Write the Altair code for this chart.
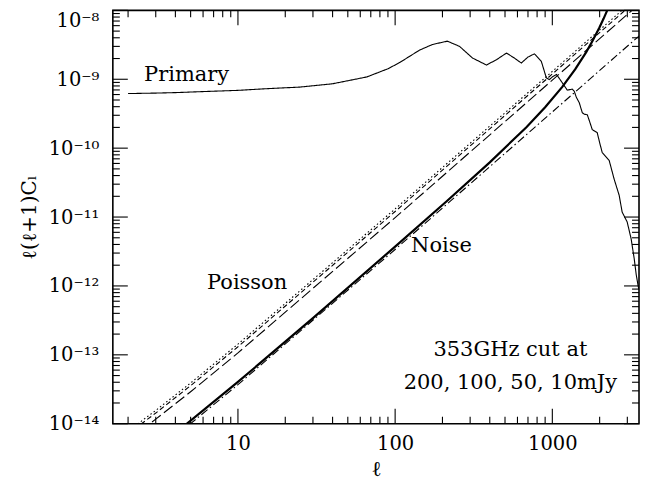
import altair as alt
import pandas as pd

# ---------------- data ----------------
primary_l = [2, 3, 4, 5.74, 10, 15.3, 24.8, 40, 66, 90, 107, 143, 173, 215, 257, 311,
             381, 441, 511, 574, 635, 700, 769, 851, 916, 957, 1010, 1065, 1157, 1245,
             1339, 1379, 1420, 1484, 1551, 1600, 1668, 1720, 1795, 1930, 2000, 2077,
             2300, 2475, 2662, 2781, 2993, 3174, 3317, 3417, 3521, 3560]
primary_v = [6.2e-10, 6.3e-10, 6.4e-10, 6.6e-10, 6.9e-10, 7.3e-10, 7.7e-10, 8.6e-10,
             1.08e-9, 1.42e-9, 1.75e-9, 2.65e-9, 3.2e-9, 3.57e-9, 3.0e-9, 2.03e-9,
             1.61e-9, 1.92e-9, 2.4e-9, 2.03e-9, 1.72e-9, 2.1e-9, 2.34e-9, 1.82e-9,
             1.05e-9, 9.9e-10, 1.1e-9, 1.17e-9, 8.9e-10, 6.95e-10,
             7.2e-10, 6.7e-10, 5.5e-10, 4.56e-10, 3.27e-10, 3.1e-10, 3.06e-10, 2.5e-10,
             1.86e-10, 1.68e-10, 1.2e-10, 8.65e-11,
             6.63e-11, 3.53e-11, 2.07e-11, 1.18e-11, 8.5e-12, 4.8e-12, 2.5e-12, 1.46e-12,
             9.8e-13, 8.9e-13]

poisson_l = [2, 3, 5, 10, 100, 1000, 3600]
poisson_200 = [7.8e-15, 1.56e-14, 3.9e-14, 1.43e-13, 1.313e-11, 1.301e-9, 1.685e-8]
poisson_100 = [7.14e-15, 1.428e-14, 3.57e-14, 1.309e-13, 1.202e-11, 1.191e-9, 1.543e-8]
poisson_50 = [5.82e-15, 1.164e-14, 2.91e-14, 1.067e-13, 9.80e-12, 9.71e-10, 1.257e-8]
poisson_10 = [2.01e-15, 4.02e-15, 1.005e-14, 3.685e-14, 3.384e-12, 3.353e-10, 4.343e-9]

noise_l = [4.5, 10, 30, 100, 211, 400, 684, 900, 1157, 1400, 1643, 1800, 1987, 2120, 2235, 2300]
noise_v = [9.1e-15, 4.04e-14, 3.41e-13, 3.72e-12, 1.667e-11, 6.22e-11, 2.016e-10, 3.92e-10,
           7.75e-10, 1.40e-9, 2.48e-9, 3.58e-9, 5.56e-9, 7.6e-9, 1.0e-8, 1.17e-8]

series_names = ["Primary", "200mJy", "100mJy", "50mJy", "10mJy"]
series_dash = [[1, 0], [1.5, 2.5], [5, 3], [11, 4], [8, 3, 1.5, 3]]

x_major = [10, 100, 1000]
x_minor = [2, 3, 4, 5, 6, 7, 8, 9, 20, 30, 40, 50, 60, 70, 80, 90,
           200, 300, 400, 500, 600, 700, 800, 900, 2000, 3000]
y_major = [1e-14, 1e-13, 1e-12, 1e-11, 1e-10, 1e-9, 1e-8]
y_minor = [m * 10.0 ** e for e in range(-14, -8) for m in range(2, 10)]

labels_left = ["Primary", "Poisson", "Noise"]
labels_left_l = [2.53, 6.36, 126.3]
labels_left_v = [9.46e-10, 9.14e-13, 3.13e-12]
labels_center = ["353GHz cut at", "200, 100, 50, 10mJy"]
labels_center_l = [541, 541]
labels_center_v = [9.58e-14, 3.2e-14]

# ---------------- build tables ----------------
rows = []
for l, v in zip(primary_l, primary_v):
    rows.append({"l": l, "v": v, "s": "Primary"})
for name, vals in zip(["200mJy", "100mJy", "50mJy", "10mJy"],
                      [poisson_200, poisson_100, poisson_50, poisson_10]):
    for l, v in zip(poisson_l, vals):
        rows.append({"l": l, "v": v, "s": name})
lines_df = pd.DataFrame(rows)
noise_df = pd.DataFrame({"l": noise_l, "v": noise_v})

W, H = 527, 414
FONT = "DejaVu Serif"

xs = alt.Scale(type="log", domain=[1.6, 3560], nice=False)
ys = alt.Scale(type="log", domain=[1e-14, 1e-8], nice=False)

ylabel_expr = ("datum.value < 5e-14 ? '10⁻¹⁴' : datum.value < 5e-13 ? '10⁻¹³' : "
               "datum.value < 5e-12 ? '10⁻¹²' : datum.value < 5e-11 ? '10⁻¹¹' : "
               "datum.value < 5e-10 ? '10⁻¹⁰' : datum.value < 5e-9 ? '10⁻⁹' : '10⁻⁸'")

x_axis = alt.Axis(values=x_major, format="d", ticks=False, domain=False, grid=False,
                  labelFont=FONT, labelFontSize=19.5, labelPadding=11, labelColor="black",
                  title="ℓ", titleFont=FONT, titleFontSize=21, titleFontWeight="normal",
                  titlePadding=5, titleColor="black", labelFlush=False)
y_axis = alt.Axis(values=y_major, labelExpr=ylabel_expr, ticks=False, domain=False, grid=False,
                  labelFont=FONT, labelFontSize=19.5, labelPadding=14, labelColor="black",
                  labelOffset={"condition": {"test": "datum.value > 5e-9", "value": 10}, "value": 0},
                  title="ℓ(ℓ+1)Cₗ", titleFont=FONT, titleFontSize=20, titleFontWeight="normal",
                  titlePadding=9, titleColor="black", labelFlush=False)

def X(field):
    return alt.X(field, scale=xs, axis=x_axis)

def Y(field):
    return alt.Y(field, scale=ys, axis=y_axis)

lines = alt.Chart(lines_df).mark_line(clip=True, color="black", strokeWidth=1.1).encode(
    x=X("l:Q"),
    y=Y("v:Q"),
    strokeDash=alt.StrokeDash("s:N", scale=alt.Scale(domain=series_names, range=series_dash),
                              legend=None),
    detail="s:N",
)

noise = alt.Chart(noise_df).mark_line(clip=True, color="black", strokeWidth=2.2).encode(
    x=X("l:Q"),
    y=Y("v:Q"),
)

def xticks(vals, length, top):
    df = pd.DataFrame({"l": vals})
    if top:
        yy, yy2 = alt.value(0), alt.value(length)
    else:
        yy, yy2 = alt.value(H), alt.value(H - length)
    return alt.Chart(df).mark_rule(color="black", strokeWidth=1.1).encode(
        x=X("l:Q"), y=yy, y2=yy2)

def yticks(vals, length, right):
    df = pd.DataFrame({"v": vals})
    if right:
        xx, xx2 = alt.value(W), alt.value(W - length)
    else:
        xx, xx2 = alt.value(0), alt.value(length)
    return alt.Chart(df).mark_rule(color="black", strokeWidth=1.1).encode(
        y=Y("v:Q"), x=xx, x2=xx2)

tick_layers = [
    xticks(x_major, 15, False), xticks(x_minor, 7, False),
    xticks(x_major, 15, True), xticks(x_minor, 7, True),
    yticks(y_major, 15, False), yticks(y_minor, 7, False),
    yticks(y_major, 15, True), yticks(y_minor, 7, True),
]

txt_left = alt.Chart(pd.DataFrame({"l": labels_left_l, "v": labels_left_v, "t": labels_left})).mark_text(
    font=FONT, fontSize=21, align="left", baseline="alphabetic", color="black").encode(
    x=X("l:Q"), y=Y("v:Q"), text="t:N")

txt_center = alt.Chart(pd.DataFrame({"l": labels_center_l, "v": labels_center_v, "t": labels_center})).mark_text(
    font=FONT, fontSize=21, align="center", baseline="alphabetic", color="black").encode(
    x=X("l:Q"), y=Y("v:Q"), text="t:N")

chart = alt.layer(lines, noise, *tick_layers, txt_left, txt_center).properties(
    width=W, height=H,
    autosize=alt.AutoSizeParams(type="none"),
    padding={"left": 105, "top": 2, "right": 6, "bottom": 58},
    background="white",
).configure_view(stroke="black", strokeWidth=1.6)

chart.save("out.html", embed_options={"renderer": "svg", "actions": False})
